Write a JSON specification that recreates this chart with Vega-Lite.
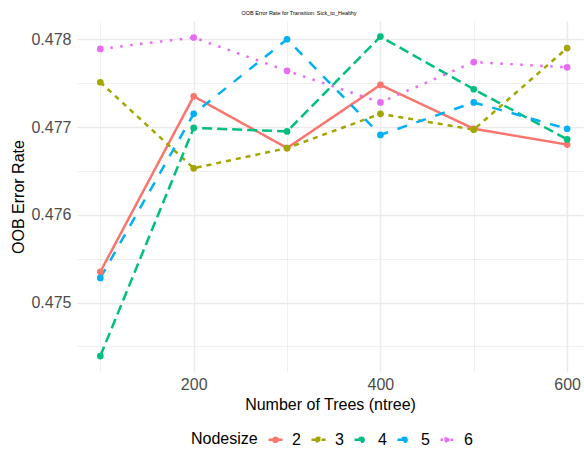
{
  "$schema": "https://vega.github.io/schema/vega-lite/v6.json",
  "width": 506,
  "height": 351,
  "autosize": {"type": "none"},
  "padding": {"left": 77, "top": 21, "right": 1, "bottom": 80},
  "background": "white",
  "title": {
    "text": "OOB Error Rate for Transition: Sick_to_Healthy",
    "fontSize": 5.5,
    "font": "Liberation Sans",
    "fontWeight": "normal",
    "color": "#000000",
    "anchor": "middle",
    "dx": -31,
    "offset": 5
  },
  "config": {
    "view": {"stroke": null},
    "font": "Liberation Sans",
    "axis": {
      "domain": false,
      "ticks": false,
      "labelFont": "Liberation Sans",
      "labelFontSize": 16,
      "labelColor": "#4d4d4d",
      "titleFont": "Liberation Sans",
      "titleFontSize": 16,
      "titleFontWeight": "normal",
      "titleColor": "#000000",
      "gridColor": "#ebebeb"
    }
  },
  "data": {
    "values": [
      {"ntree": 100, "nodesize": "2", "oob": 0.47535},
      {"ntree": 200, "nodesize": "2", "oob": 0.47735},
      {"ntree": 300, "nodesize": "2", "oob": 0.47676},
      {"ntree": 400, "nodesize": "2", "oob": 0.47748},
      {"ntree": 500, "nodesize": "2", "oob": 0.47698},
      {"ntree": 600, "nodesize": "2", "oob": 0.47680},
      {"ntree": 100, "nodesize": "3", "oob": 0.47751},
      {"ntree": 200, "nodesize": "3", "oob": 0.47653},
      {"ntree": 300, "nodesize": "3", "oob": 0.47676},
      {"ntree": 400, "nodesize": "3", "oob": 0.47715},
      {"ntree": 500, "nodesize": "3", "oob": 0.47697},
      {"ntree": 600, "nodesize": "3", "oob": 0.47790},
      {"ntree": 100, "nodesize": "4", "oob": 0.47439},
      {"ntree": 200, "nodesize": "4", "oob": 0.47699},
      {"ntree": 300, "nodesize": "4", "oob": 0.47695},
      {"ntree": 400, "nodesize": "4", "oob": 0.47803},
      {"ntree": 500, "nodesize": "4", "oob": 0.47743},
      {"ntree": 600, "nodesize": "4", "oob": 0.47686},
      {"ntree": 100, "nodesize": "5", "oob": 0.47528},
      {"ntree": 200, "nodesize": "5", "oob": 0.47715},
      {"ntree": 300, "nodesize": "5", "oob": 0.47800},
      {"ntree": 400, "nodesize": "5", "oob": 0.47691},
      {"ntree": 500, "nodesize": "5", "oob": 0.47728},
      {"ntree": 600, "nodesize": "5", "oob": 0.47698},
      {"ntree": 100, "nodesize": "6", "oob": 0.47789},
      {"ntree": 200, "nodesize": "6", "oob": 0.47802},
      {"ntree": 300, "nodesize": "6", "oob": 0.47764},
      {"ntree": 400, "nodesize": "6", "oob": 0.47728},
      {"ntree": 500, "nodesize": "6", "oob": 0.47774},
      {"ntree": 600, "nodesize": "6", "oob": 0.47768}
    ]
  },
  "mark": {
    "type": "line",
    "strokeWidth": 2.5,
    "strokeJoin": "round",
    "strokeCap": "butt",
    "point": {"filled": true, "size": 45, "opacity": 1}
  },
  "encoding": {
    "x": {
      "field": "ntree",
      "type": "quantitative",
      "title": "Number of Trees (ntree)",
      "scale": {"domain": [75, 617], "nice": false, "zero": false},
      "axis": {
        "values": [100, 200, 300, 400, 500, 600],
        "labelExpr": "datum.value % 200 === 0 ? datum.label : ''",
        "labelPadding": 4,
        "titlePadding": 4,
        "gridWidth": {"condition": {"test": "datum.value % 200 === 0", "value": 1.5}, "value": 0.75}
      }
    },
    "y": {
      "field": "oob",
      "type": "quantitative",
      "title": "OOB Error Rate",
      "scale": {"domain": [0.474208, 0.478208], "nice": false, "zero": false},
      "axis": {
        "values": [0.4745, 0.475, 0.4755, 0.476, 0.4765, 0.477, 0.4775, 0.478],
        "labelExpr": "abs(datum.value*1000 - round(datum.value*1000)) < 0.01 ? format(datum.value, '.3f') : ''",
        "labelPadding": 6,
        "titlePadding": 4,
        "gridWidth": {"condition": {"test": "abs(datum.value*1000 - round(datum.value*1000)) < 0.01", "value": 1.5}, "value": 0.75}
      }
    },
    "color": {
      "field": "nodesize",
      "type": "nominal",
      "scale": {"domain": ["2", "3", "4", "5", "6"], "range": ["#F8766D", "#A3A500", "#00BF7D", "#00B0F6", "#E76BF3"]},
      "legend": {
        "title": "Nodesize",
        "orient": "none",
        "legendX": 114,
        "legendY": 410,
        "direction": "horizontal",
        "titleOrient": "left",
        "titleFontSize": 16,
        "titleFontWeight": "normal",
        "titleColor": "#000000",
        "titleFont": "Liberation Sans",
        "titlePadding": 9,
        "labelFontSize": 16,
        "labelFont": "Liberation Sans",
        "labelColor": "#000000",
        "labelOffset": 8,
        "columnPadding": 5,
        "symbolType": "M-1,0H1M-0.3,0A0.3,0.3,0,1,1,0.3,0A0.3,0.3,0,1,1,-0.3,0Z",
        "symbolSize": 196,
        "symbolStrokeWidth": 2.5,
        "encode": {"symbols": {"update": {"fill": {"scale": "color", "field": "value"}}}}
      }
    },
    "strokeDash": {
      "field": "nodesize",
      "type": "nominal",
      "scale": {"domain": ["2", "3", "4", "5", "6"], "range": [[1, 0], [5, 5], [10, 5], [10, 10], [2.5, 7.5]]},
      "legend": {
        "title": "Nodesize",
        "orient": "none",
        "legendX": 114,
        "legendY": 410,
        "direction": "horizontal",
        "titleOrient": "left",
        "titleFontSize": 16,
        "titleFontWeight": "normal",
        "titleColor": "#000000",
        "titleFont": "Liberation Sans",
        "titlePadding": 9,
        "labelFontSize": 16,
        "labelFont": "Liberation Sans",
        "labelColor": "#000000",
        "labelOffset": 8,
        "columnPadding": 5,
        "symbolType": "M-1,0H1M-0.3,0A0.3,0.3,0,1,1,0.3,0A0.3,0.3,0,1,1,-0.3,0Z",
        "symbolSize": 196,
        "symbolStrokeWidth": 2.5,
        "encode": {"symbols": {"update": {"fill": {"scale": "color", "field": "value"}}}}
      }
    }
  }
}
